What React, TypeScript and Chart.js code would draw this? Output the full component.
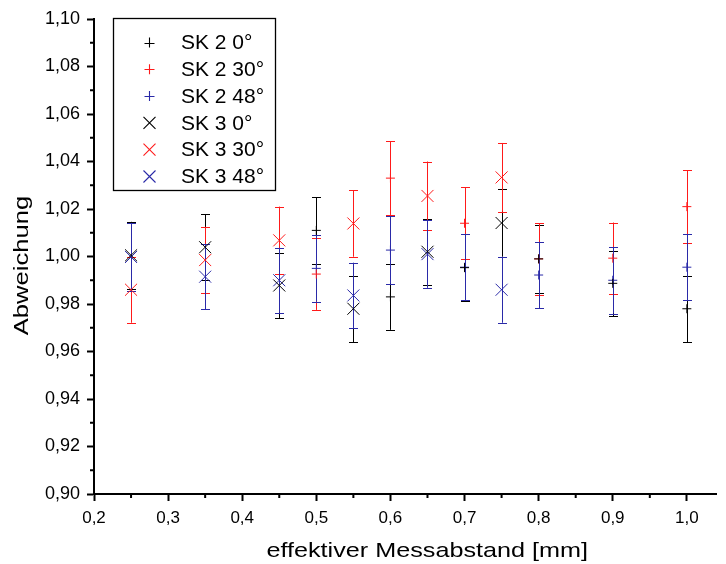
import React, { useEffect, useRef } from "react";
import { Chart, registerables } from "chart.js";

Chart.register(...registerables);

// ---- data ----
const xSK3 = [0.25, 0.35, 0.45, 0.55, 0.65, 0.75];
const xSK2 = [0.5, 0.6, 0.7, 0.8, 0.9, 1.0];

const sk2_0 = [1.011, 0.983, 0.9953, 0.999, 0.9887, 0.978];
const sk2_0Err = [0.014, 0.0139, 0.014, 0.0143, 0.0138, 0.014];
const sk2_30 = [0.9926, 1.033, 1.014, 0.999, 0.9993, 1.021];
const sk2_30Err = [0.0151, 0.0155, 0.0152, 0.015, 0.015, 0.0153];
const sk2_48 = [0.995, 1.0027, 0.9955, 0.9922, 0.990, 0.9955];
const sk2_48Err = [0.014, 0.0142, 0.014, 0.014, 0.014, 0.014];

const sk3_0 = [1.0005, 1.0039, 0.9878, 0.978, 1.002, 1.0141];
const sk3_0Err = [0.0141, 0.014, 0.0138, 0.014, 0.014, 0.0142];
const sk3_30 = [0.986, 0.9985, 1.0068, 1.0139, 1.0255, 1.0333];
const sk3_30Err = [0.0139, 0.014, 0.0142, 0.014, 0.0145, 0.0145];
const sk3_48 = [0.9998, 0.9915, 0.990, 0.9836, 1.001, 0.986];
const sk3_48Err = [0.0143, 0.0138, 0.0137, 0.0138, 0.0142, 0.0139];

const seriesLabels = ["SK 2 0°", "SK 2 30°", "SK 2 48°", "SK 3 0°", "SK 3 30°", "SK 3 48°"];

const xTicks = [0.2, 0.3, 0.4, 0.5, 0.6, 0.7, 0.8, 0.9, 1.0];
const xMinorTicks = [0.25, 0.35, 0.45, 0.55, 0.65, 0.75, 0.85, 0.95];
const yTicks = [0.9, 0.92, 0.94, 0.96, 0.98, 1.0, 1.02, 1.04, 1.06, 1.08, 1.1];
const yMinorTicks = [0.91, 0.93, 0.95, 0.97, 0.99, 1.01, 1.03, 1.05, 1.07, 1.09];

const xTitle = "effektiver Messabstand [mm]";
const yTitle = "Abweichung";

const BLACK = "#000000";
const RED = "#ff1a1a";
const BLUE = "#2a2aa8";
const FONT = "'Liberation Sans', Arial, Helvetica, sans-serif";

function mk(label: string, xs: number[], ys: number[], errs: number[], color: string, style: string, r: number) {
  return {
    label,
    data: xs.map((x, i) => ({ x, y: ys[i] })),
    errors: errs,
    markerColor: color,
    borderColor: color,
    backgroundColor: color,
    pointStyle: style,
    pointRadius: r,
    pointHoverRadius: r,
    pointBorderWidth: 1,
    pointBorderColor: color,
    pointBackgroundColor: color,
    showLine: false,
  } as any;
}

const errorBarPlugin = {
  id: "errorBars",
  beforeDatasetsDraw(chart: any) {
    const ctx = chart.ctx;
    const xs = chart.scales.x;
    const ys = chart.scales.y;
    ctx.save();
    chart.data.datasets.forEach((ds: any) => {
      ctx.strokeStyle = ds.markerColor;
      ctx.lineWidth = 1;
      ds.data.forEach((p: any, i: number) => {
        const e = ds.errors[i];
        const px = Math.round(xs.getPixelForValue(p.x)) + 0.5;
        const y1 = ys.getPixelForValue(p.y + e);
        const y2 = ys.getPixelForValue(p.y - e);
        const hw = 4.5;
        ctx.beginPath();
        ctx.moveTo(px, y1);
        ctx.lineTo(px, y2);
        ctx.moveTo(px - hw, Math.round(y1) + 0.5);
        ctx.lineTo(px + hw, Math.round(y1) + 0.5);
        ctx.moveTo(px - hw, Math.round(y2) + 0.5);
        ctx.lineTo(px + hw, Math.round(y2) + 0.5);
        ctx.stroke();
      });
    });
    ctx.restore();
  },
};

const decorPlugin = {
  id: "decor",
  afterDraw(chart: any) {
    const ctx = chart.ctx;
    const xs = chart.scales.x;
    const ys = chart.scales.y;
    const ca = chart.chartArea;
    ctx.save();
    // minor ticks
    ctx.strokeStyle = "#000";
    ctx.lineWidth = 2;
    ctx.beginPath();
    xMinorTicks.forEach((v) => {
      const px = xs.getPixelForValue(v);
      ctx.moveTo(px, ca.bottom);
      ctx.lineTo(px, ca.bottom + 4);
    });
    yMinorTicks.forEach((v) => {
      const py = ys.getPixelForValue(v);
      ctx.moveTo(ca.left, py);
      ctx.lineTo(ca.left - 4, py);
    });
    ctx.stroke();

    // axis titles (slightly wide lettering as in the original)
    ctx.fillStyle = "#000";
    ctx.font = `21px ${FONT}`;
    ctx.textAlign = "center";
    ctx.textBaseline = "middle";
    ctx.save();
    ctx.translate((ca.left + ca.right) / 2 + 22, ca.bottom + 57);
    ctx.scale(1.2, 1);
    ctx.fillText(xTitle, 0, 0);
    ctx.restore();
    ctx.save();
    ctx.translate(22, (ca.top + ca.bottom) / 2 + 9);
    ctx.rotate(-Math.PI / 2);
    ctx.scale(1.22, 1);
    ctx.fillText(yTitle, 0, 0);
    ctx.restore();

    // legend
    const bx = 113.5, by = 18.5, bw = 162, bh = 172;
    ctx.fillStyle = "#fff";
    ctx.fillRect(bx, by, bw, bh);
    ctx.strokeStyle = "#000";
    ctx.lineWidth = 1.3;
    ctx.strokeRect(bx, by, bw, bh);
    const rowH = 26.8;
    chart.data.datasets.forEach((ds: any, i: number) => {
      const cy = by + 24 + i * rowH;
      const mx = 149.5;
      ctx.beginPath();
      ctx.strokeStyle = ds.markerColor;
      ctx.lineWidth = 1.1;
      if (ds.pointStyle === "cross") {
        const r = 5;
        ctx.moveTo(mx - r, Math.round(cy) + 0.5);
        ctx.lineTo(mx + r, Math.round(cy) + 0.5);
        ctx.moveTo(mx, cy - r);
        ctx.lineTo(mx, cy + r);
      } else {
        const r = 8.5 * Math.SQRT1_2;
        ctx.moveTo(mx - r, cy - r);
        ctx.lineTo(mx + r, cy + r);
        ctx.moveTo(mx - r, cy + r);
        ctx.lineTo(mx + r, cy - r);
      }
      ctx.stroke();
      ctx.fillStyle = "#000";
      ctx.font = `21px ${FONT}`;
      ctx.textAlign = "left";
      ctx.textBaseline = "middle";
      ctx.fillText(ds.label, 181, cy + 1);
    });
    ctx.restore();
  },
};

export default function App() {
  const ref = useRef<HTMLCanvasElement | null>(null);
  useEffect(() => {
    document.body.style.margin = "0";
    const canvas = ref.current!;
    const chart = new Chart(canvas, {
      type: "scatter",
      data: {
        datasets: [
          mk(seriesLabels[0], xSK2, sk2_0, sk2_0Err, BLACK, "cross", 4.5),
          mk(seriesLabels[1], xSK2, sk2_30, sk2_30Err, RED, "cross", 4.5),
          mk(seriesLabels[2], xSK2, sk2_48, sk2_48Err, BLUE, "cross", 4.5),
          mk(seriesLabels[3], xSK3, sk3_0, sk3_0Err, BLACK, "crossRot", 8.5),
          mk(seriesLabels[4], xSK3, sk3_30, sk3_30Err, RED, "crossRot", 8.5),
          mk(seriesLabels[5], xSK3, sk3_48, sk3_48Err, BLUE, "crossRot", 8.5),
        ],
      },
      options: {
        responsive: false,
        animation: false,
        devicePixelRatio: 1,
        layout: { padding: { top: 19, right: 0, left: 0, bottom: 0 } },
        plugins: {
          legend: { display: false },
          tooltip: { enabled: false },
          title: { display: false },
        },
        scales: {
          x: {
            type: "linear",
            min: 0.2,
            max: 1.04,
            afterBuildTicks: (s: any) => {
              s.ticks = xTicks.map((v) => ({ value: v }));
            },
            afterFit: (s: any) => {
              s.height = 70;
            },
            ticks: {
              autoSkip: false,
              maxRotation: 0,
              color: "#000",
              padding: 7,
              font: { family: FONT, size: 17 },
              callback: (v: any) => Number(v).toFixed(1).replace(".", ","),
            },
            grid: {
              display: true,
              drawOnChartArea: false,
              drawTicks: true,
              tickLength: 7,
              tickWidth: 2,
              tickColor: "#000",
            },
            border: { display: true, color: "#000", width: 2 },
          },
          y: {
            type: "linear",
            min: 0.9,
            max: 1.1,
            afterBuildTicks: (s: any) => {
              s.ticks = yTicks.map((v) => ({ value: v }));
            },
            afterFit: (s: any) => {
              s.width = 94;
            },
            ticks: {
              autoSkip: false,
              color: "#000",
              padding: 7,
              font: { family: FONT, size: 18 },
              callback: (v: any) => Number(v).toFixed(2).replace(".", ","),
            },
            grid: {
              display: true,
              drawOnChartArea: false,
              drawTicks: true,
              tickLength: 7,
              tickWidth: 2,
              tickColor: "#000",
            },
            border: { display: true, color: "#000", width: 2 },
          },
        },
      } as any,
      plugins: [errorBarPlugin, decorPlugin],
    });
    return () => chart.destroy();
  }, []);
  return (
    <div style={{ width: 726, height: 564 }}>
      <canvas ref={ref} width={726} height={564} style={{ display: "block", width: 726, height: 564 }} />
    </div>
  );
}
